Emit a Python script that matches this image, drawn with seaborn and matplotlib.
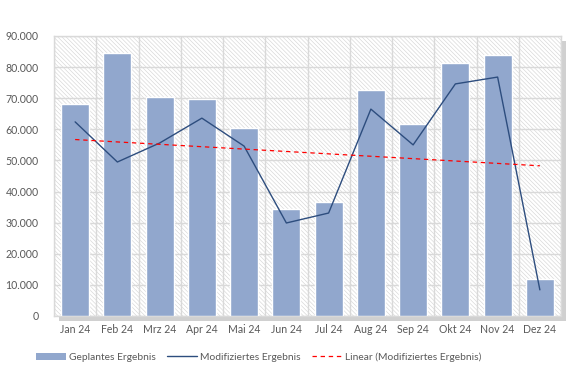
import numpy as np
import pandas as pd
import matplotlib
matplotlib.use("Agg")
import matplotlib.pyplot as plt
import seaborn as sns
from matplotlib.patches import Rectangle, Patch
from matplotlib.lines import Line2D
from matplotlib.ticker import FuncFormatter, MultipleLocator

months = ["Jan 24", "Feb 24", "Mrz 24", "Apr 24", "Mai 24", "Jun 24",
          "Jul 24", "Aug 24", "Sep 24", "Okt 24", "Nov 24", "Dez 24"]
geplant = [68000, 84500, 70400, 69800, 60400, 34400,
           36600, 72600, 61700, 81300, 83900, 11900]
modifiziert = [62400, 49500, 55600, 63600, 54600, 29900,
               33100, 66500, 55000, 74600, 76800, 8400]

df = pd.DataFrame({"Monat": months, "Geplant": geplant, "Modifiziert": modifiziert,
                   "pos": np.arange(len(months))})

sns.set_style("white")
plt.rcParams["font.family"] = ["Lato", "DejaVu Sans"]
plt.rcParams["hatch.linewidth"] = 0.45

fig = plt.figure(figsize=(5.87, 3.86), dpi=100)
ax = fig.add_axes([54/587, 1-316/386, (561-54)/587, (316-36)/386])

bar_color = "#91A7CD"
line_color = "#2D4D7E"
grid_color = "#D9D9D9"
text_color = "#595959"

# shadow behind plot area
shadow = Rectangle((54/587 + 5/587, 1-316/386 - 5/386), (561-54)/587, (316-36)/386,
                   transform=fig.transFigure, facecolor="#D0D0D0", edgecolor="none", zorder=-10)
fig.patches.append(shadow)

ax.set_facecolor("white")
hatch = Rectangle((0, 0), 1, 1, transform=ax.transAxes, facecolor="white",
                  edgecolor="#D6D6D6", hatch="\\" * 8, linewidth=0, zorder=0)
ax.add_patch(hatch)

sns.barplot(data=df, x="Monat", y="Geplant", color=bar_color, width=0.66,
            saturation=1, ax=ax, zorder=3)
sns.lineplot(x=df["pos"], y=df["Modifiziert"], color=line_color, linewidth=1.0,
             ax=ax, zorder=4, sort=False)
sns.regplot(x=df["pos"], y=df["Modifiziert"], scatter=False, ci=None, ax=ax,
            line_kws=dict(color="#FF0000", linestyle=(0, (3.5, 3)), linewidth=0.9, zorder=5))

ax.set_xlim(-0.5, 11.5)
ax.set_ylim(0, 90000)
ax.yaxis.set_major_locator(MultipleLocator(10000))
ax.yaxis.set_major_formatter(FuncFormatter(lambda v, p: f"{int(v):,}".replace(",", ".")))
ax.set_xticks(np.arange(12))
ax.set_xticklabels(months)
ax.set_xticks(np.arange(-0.5, 12, 1), minor=True)
ax.grid(False)
ax.grid(True, axis="y", which="major", color=grid_color, linewidth=1.0, zorder=1)
ax.grid(True, axis="x", which="minor", color=grid_color, linewidth=1.0, zorder=1)
ax.set_axisbelow(True)
for s in ax.spines.values():
    s.set_color(grid_color)
    s.set_linewidth(1.0)
ax.tick_params(axis="both", which="both", length=0, colors=text_color, labelsize=7.6)
ax.tick_params(axis="x", pad=6)
ax.tick_params(axis="y", pad=11)
ax.set_xlabel("")
ax.set_ylabel("")

handles = [Patch(facecolor=bar_color, edgecolor="none"),
           Line2D([], [], color=line_color, linewidth=1.0),
           Line2D([], [], color="#FF0000", linestyle=(0, (3.5, 3)), linewidth=0.9)]
labels = ["Geplantes Ergebnis", "Modifiziertes Ergebnis", "Linear (Modifiziertes Ergebnis)"]
leg = fig.legend(handles, labels, loc="center", bbox_to_anchor=(259/587, 1-357/386), ncol=3,
                 frameon=False, fontsize=7.4, handlelength=2.9, handleheight=0.7,
                 columnspacing=1.1, handletextpad=0.3, borderpad=0)
for t in leg.get_texts():
    t.set_color(text_color)

fig.savefig("out.png", dpi=100)
